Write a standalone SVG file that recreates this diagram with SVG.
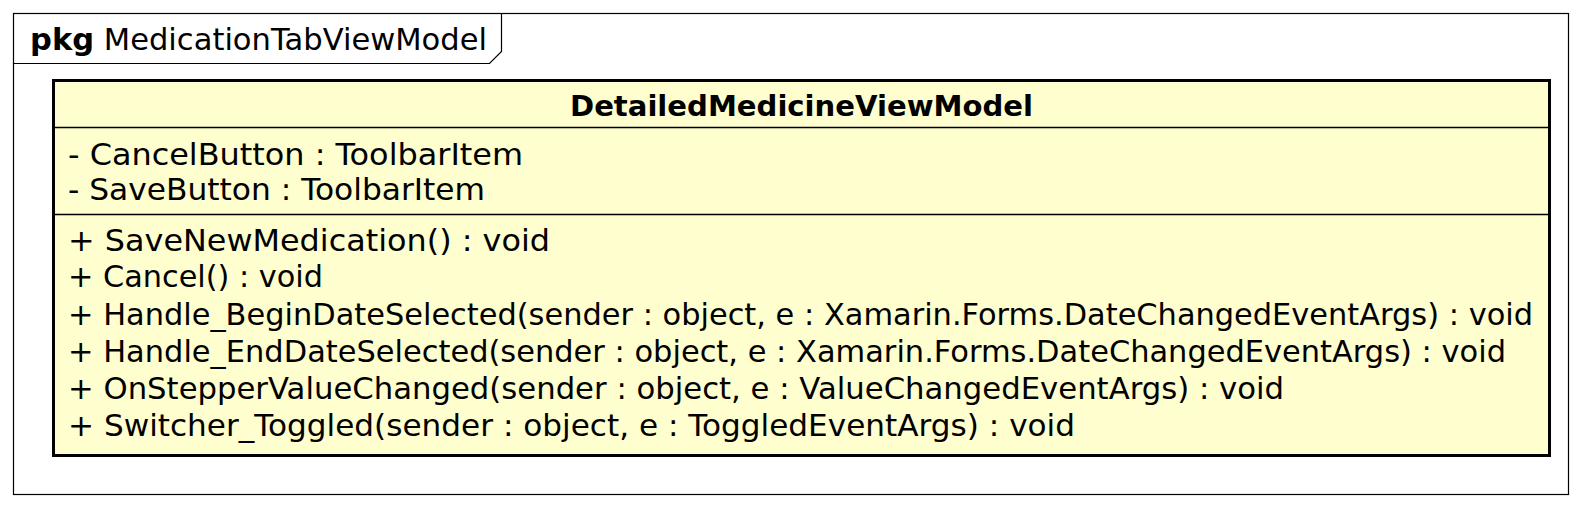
<svg xmlns="http://www.w3.org/2000/svg" width="1582" height="509" viewBox="0 0 1582 509">
<style>
text{font-family:"DejaVu Sans","Liberation Sans",sans-serif;fill:#000}
.t{font-size:30px}
.h{font-size:29px;font-weight:bold}
.b{font-weight:bold}
.frame{fill:#fff;stroke:#000;stroke-width:1.2}
.cls{fill:#FEFECE;stroke:#000;stroke-width:3}
.sep{stroke:#000;stroke-width:1.5}
</style>
<rect width="1582" height="509" fill="#fff"/>
<g id="pkg-MedicationTabViewModel">
<rect class="frame" x="13.5" y="13.5" width="1555" height="481"/>
<path d="M13.5 63.5 H489.5 L501.5 51.5 V13.5" fill="none" stroke="#000" stroke-width="1.2"/>
<text class="t" x="30" y="50" textLength="457" lengthAdjust="spacingAndGlyphs"><tspan class="b">pkg</tspan> MedicationTabViewModel</text>
</g>
<g id="class-DetailedMedicineViewModel">
<rect class="cls" x="53.5" y="80.5" width="1496" height="375"/>
<text class="h" x="570" y="116" textLength="463" lengthAdjust="spacingAndGlyphs">DetailedMedicineViewModel</text>
<line class="sep" x1="53.5" y1="127.5" x2="1549.5" y2="127.5"/>
<text class="t" x="68" y="165" textLength="455" lengthAdjust="spacingAndGlyphs">- CancelButton : ToolbarItem</text>
<text class="t" x="68" y="200" textLength="417" lengthAdjust="spacingAndGlyphs">- SaveButton : ToolbarItem</text>
<line class="sep" x1="53.5" y1="214.5" x2="1549.5" y2="214.5"/>
<text class="t" x="68" y="251" textLength="482" lengthAdjust="spacingAndGlyphs">+ SaveNewMedication() : void</text>
<text class="t" x="68" y="287" textLength="255" lengthAdjust="spacingAndGlyphs">+ Cancel() : void</text>
<text class="t" x="68" y="325" textLength="1465" lengthAdjust="spacingAndGlyphs">+ Handle_BeginDateSelected(sender : object, e : Xamarin.Forms.DateChangedEventArgs) : void</text>
<text class="t" x="68" y="362" textLength="1438" lengthAdjust="spacingAndGlyphs">+ Handle_EndDateSelected(sender : object, e : Xamarin.Forms.DateChangedEventArgs) : void</text>
<text class="t" x="68" y="399" textLength="1216" lengthAdjust="spacingAndGlyphs">+ OnStepperValueChanged(sender : object, e : ValueChangedEventArgs) : void</text>
<text class="t" x="68" y="436" textLength="1007" lengthAdjust="spacingAndGlyphs">+ Switcher_Toggled(sender : object, e : ToggledEventArgs) : void</text>
</g>
<g id="connectors"></g>
</svg>
